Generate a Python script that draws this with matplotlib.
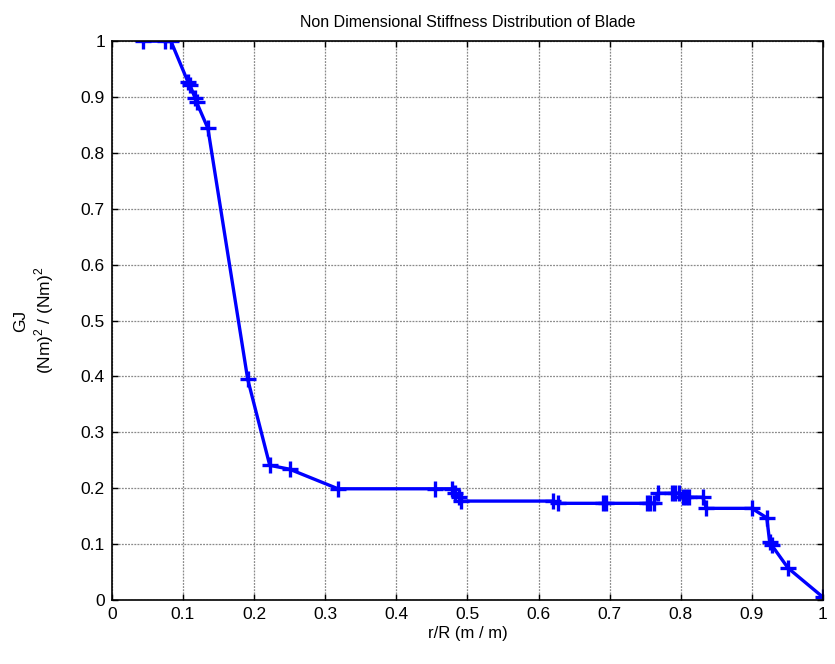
import numpy as np
import matplotlib
matplotlib.use('Agg')
import matplotlib.pyplot as plt

plt.rcParams['font.family'] = ['Liberation Sans', 'DejaVu Sans']
plt.rcParams['mathtext.fontset'] = 'custom'
plt.rcParams['mathtext.rm'] = 'Liberation Sans'

# Non dimensional radius and stiffness
r_R = [0.044, 0.075, 0.083, 0.107, 0.110, 0.117, 0.119, 0.135, 0.191, 0.222,
       0.250, 0.318, 0.454, 0.478, 0.483, 0.488, 0.491, 0.620, 0.627, 0.690,
       0.695, 0.752, 0.757, 0.762, 0.768, 0.787, 0.792, 0.797, 0.803, 0.808,
       0.812, 0.831, 0.836, 0.900, 0.921, 0.925, 0.928, 0.951, 1.000]
gj = [1.000, 1.000, 1.000, 0.927, 0.921, 0.898, 0.891, 0.844, 0.395, 0.241,
      0.234, 0.199, 0.199, 0.199, 0.191, 0.184, 0.177, 0.177, 0.173, 0.173,
      0.173, 0.173, 0.173, 0.173, 0.191, 0.191, 0.191, 0.191, 0.184, 0.184,
      0.184, 0.184, 0.164, 0.164, 0.147, 0.104, 0.098, 0.057, 0.005]

x_ticks = np.round(np.arange(0, 1.01, 0.1), 1)
y_ticks = np.round(np.arange(0, 1.01, 0.1), 1)
x_labels = ['0', '0.1', '0.2', '0.3', '0.4', '0.5', '0.6', '0.7', '0.8', '0.9', '1']
y_labels = ['0', '0.1', '0.2', '0.3', '0.4', '0.5', '0.6', '0.7', '0.8', '0.9', '1']

fig = plt.figure(figsize=(8.35, 6.64), dpi=100)
ax = fig.add_axes([0.134, 0.0964, 0.8516, 0.8416])

ax.plot(r_R, gj, color='#0000ff', linewidth=2.4, marker='+',
        markersize=12, markeredgewidth=2.4)

ax.set_xlim(0, 1)
ax.set_ylim(0, 1)
ax.set_xticks(x_ticks)
ax.set_xticklabels(x_labels)
ax.set_yticks(y_ticks)
ax.set_yticklabels(y_labels)
ax.tick_params(direction='in', top=True, right=True, labelsize=12.5,
               length=4, width=1, pad=5)
ax.grid(True, linestyle=(0, (1.5, 1)), color='#8a8a8a', linewidth=0.9)
for s in ax.spines.values():
    s.set_linewidth(1.2)

ax.set_title('Non Dimensional Stiffness Distribution of Blade', fontsize=11.5, pad=10)
ax.set_xlabel('r/R (m / m)', fontsize=12, labelpad=3)
ax.set_ylabel('GJ\n(Nm)$^2$ / (Nm)$^2$', fontsize=12.5, labelpad=18)

fig.savefig('out.png', dpi=100)
